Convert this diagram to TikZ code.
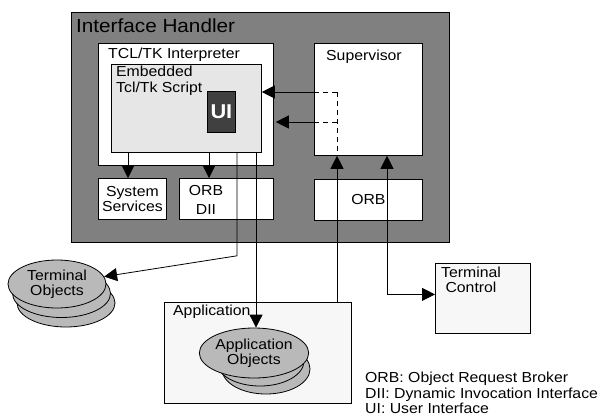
\documentclass[tikz,border=0pt]{standalone}
\usepackage{fontspec}
\setmainfont[FakeStretch=1.09]{Liberation Sans}
\usetikzlibrary{positioning,arrows.meta,calc,shapes.geometric}
\definecolor{ihgray}{HTML}{808080}
\definecolor{scriptgray}{HTML}{E6E6E6}
\definecolor{uidark}{HTML}{404040}
\definecolor{objgray}{HTML}{B9B9B9}
\definecolor{appwhite}{HTML}{F7F7F7}

\begin{document}
\begin{tikzpicture}[x=1pt, y=-1pt,
    box/.style={draw, line width=0.8pt, inner sep=0pt, anchor=north west,
      font=\fontsize{14.5}{15}\selectfont, align=center},
    lbl/.style={inner sep=0pt, anchor=base west, font=\fontsize{14.5}{16}\selectfont},
    objs/.style={ellipse, draw, line width=0.8pt, fill=objgray, inner sep=0pt,
      align=center, font=\fontsize{14.5}{15.5}\selectfont},
    arr/.style={line width=0.8pt, -{Triangle[length=13pt,width=13pt]}},
    twoarr/.style={line width=0.8pt, {Triangle[length=13pt,width=13pt]}-{Triangle[length=13pt,width=13pt]}},
    dashline/.style={line width=0.8pt, dash pattern=on 5pt off 4pt}]
    \useasboundingbox (0,0) rectangle (600,416);

    % interface handler and its parts
    \node[box, fill=ihgray, minimum width=378pt, minimum height=230pt] (handler) at (71,12) {};
    \node[lbl, font=\fontsize{19}{20}\selectfont] (handlerlbl) at (76,32) {Interface Handler};
    \node[box, fill=white, minimum width=175pt, minimum height=122pt] (tcl) at (98,43) {};
    \node[lbl] (tcllbl) at (108,58) {TCL/TK Interpreter};
    \node[box, fill=scriptgray, minimum width=150pt, minimum height=88pt] (script) at (111,64) {};
    \node[lbl, anchor=north west, align=left] (scriptlbl) at (116,66) {Embedded\\Tcl/Tk Script};
    \node[box, fill=uidark, text=white, font=\fontsize{20}{20}\selectfont\bfseries,
      minimum width=28pt, minimum height=41pt] (ui) at (207,91) {UI};
    \node[box, fill=white, minimum width=68pt, minimum height=41pt] (sysserv) at (98,178) {System\\Services};
    \node[box, fill=white, minimum width=94pt, minimum height=41pt] (orbdii) at (179,178) {};
    \node[align=center, inner sep=0pt, font=\fontsize{14.5}{19}\selectfont] (orbdiilbl) at (206,200) {ORB\\DII};
    \node[box, fill=white, minimum width=108pt, minimum height=112pt] (super) at (314,43) {};
    \node[lbl] (superlbl) at (326,60) {Supervisor};
    \node[box, fill=white, minimum width=108pt, minimum height=41pt] (orb) at (314,179) {ORB};

    % outside the handler
    \node[box, fill=appwhite, minimum width=187pt, minimum height=101pt] (app) at (164,302) {};
    \node[lbl] (applbl) at (173,315) {Application};
    \node[box, fill=appwhite, minimum width=95pt, minimum height=70pt] (tc) at (435,263) {};
    \node[align=center, inner sep=0pt, font=\fontsize{14.5}{15}\selectfont] (tclbl) at (471,280) {Terminal\\Control};

    \node[objs, minimum width=98pt, minimum height=48pt] (termobjC) at (66,303) {};
    \node[objs, minimum width=98pt, minimum height=48pt] (termobjB) at (61.5,293.5) {};
    \node[objs, minimum width=98pt, minimum height=48pt] (termobj) at (57,284) {Terminal\\Objects};
    \node[objs, minimum width=88pt, minimum height=50pt] (appobjC) at (266,369) {};
    \node[objs, minimum width=88pt, minimum height=50pt] (appobjB) at (260,361) {};
    \node[objs, minimum width=88pt, minimum height=50pt] (appobj) at (254,353) {Application\\Objects};

    \node[lbl, anchor=north west, align=left, font=\fontsize{14.5}{15.5}\selectfont] (legend) at (365,372)
      {ORB: Object Request Broker\\DII: Dynamic Invocation Interface\\UI: User Interface};

    % connectors
    \coordinate (s1) at ($(script.south west)+(17,0)$);
    \coordinate (s2) at ($(script.south west)+(98,0)$);
    \coordinate (s3) at ($(script.south west)+(126,0)$);
    \coordinate (s4) at ($(script.south west)+(145,0)$);
    \coordinate (sup1) at ($(super.north west)+(23,49)$);
    \coordinate (sup2) at ($(super.north west)+(23,79)$);
    \coordinate (tcin) at ($(super.south west)+(73,0)$);

    \draw[arr] (s1) -- (s1 |- sysserv.north);
    \draw[arr] (s2) -- (s2 |- orbdii.north);
    \draw[arr] (s3) -- ($(s3 |- handler.south)+(0,13)$) -- (termobj);
    \draw[arr] (s4) -- (s4 |- appobj.north);
    \draw[dashline] (sup1) -- (sup1 -| super.west);
    \draw[dashline] (sup2) -- (sup2 -| super.west);
    \draw[dashline] (sup1) -- (sup1 |- super.south);
    \draw[arr] (sup1 -| super.west) -- (sup1 -| script.east);
    \draw[arr] (sup2 -| super.west) -- ($(sup2 -| tcl.east)+(2,0)$);
    \draw[arr] (sup1 |- app.north) -- (sup1 |- super.south);
    \draw[twoarr] (tcin) -- ($(tcin |- tc.west)+(0,-4)$) -- ($(tc.west)+(0,-4)$);
  \end{tikzpicture}
\end{document}
